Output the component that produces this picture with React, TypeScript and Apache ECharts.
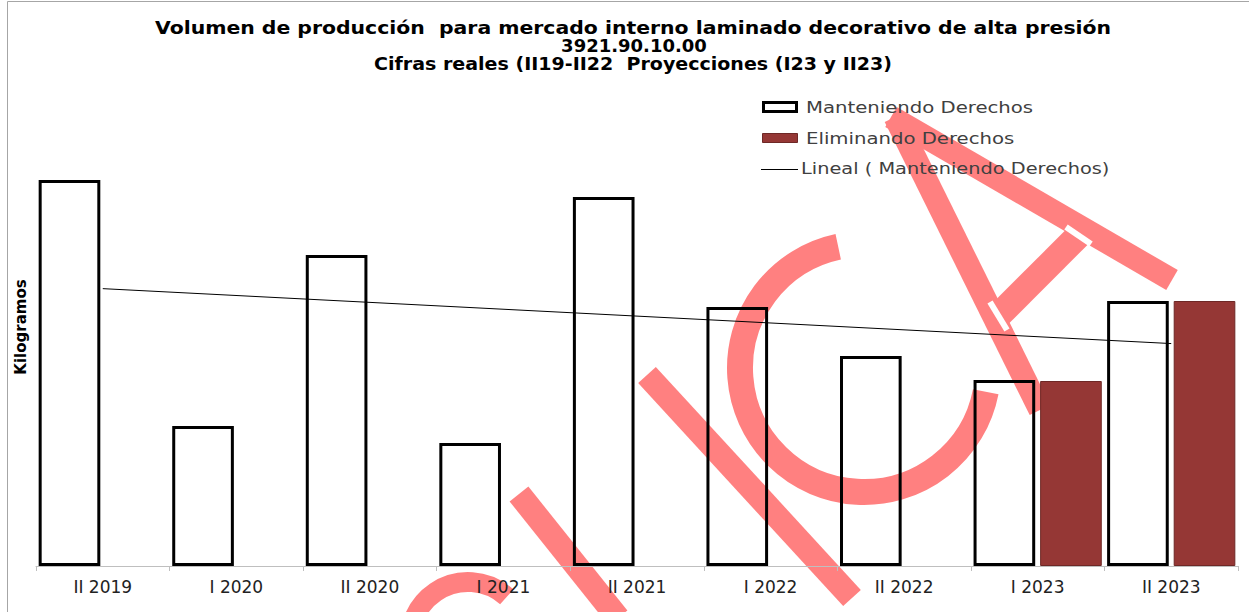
import React, { useEffect, useRef } from "react";
import * as echarts from "echarts";

const categories = ["II 2019", "I 2020", "II 2020", "I 2021", "II 2021", "I 2022", "II 2022", "I 2023", "II 2023"];
const manteniendo = [386, 140, 311, 123, 369, 259, 210, 186, 265];
const eliminando: (number | null)[] = [null, null, null, null, null, null, null, 185, 265];

const titleLines = [
  "Volumen de producción  para mercado interno laminado decorativo de alta presión",
  "3921.90.10.00",
  "Cifras reales (II19-II22  Proyecciones (I23 y II23)",
];
const seriesNames = ["Manteniendo Derechos", "Eliminando Derechos", "Lineal ( Manteniendo Derechos)"];

const FONT = "'DejaVu Sans', sans-serif";
const WM = "#ff8080";
const BROWN = "#953735";

function linearTrend(vals: number[]): (number | null)[] {
  const n = vals.length;
  const mx = (n - 1) / 2;
  const my = vals.reduce((s, v) => s + v, 0) / n;
  let sxy = 0, sxx = 0;
  vals.forEach((v, i) => { sxy += (i - mx) * (v - my); sxx += (i - mx) * (i - mx); });
  const b = sxy / sxx;
  const a = my - b * mx;
  return vals.map((_, i) => (i === 0 || i === n - 1 ? a + b * i : null));
}

function strip(x0: number, y0: number, x1: number, y1: number, w: number, fill = WM, z = -1) {
  const dx = x1 - x0, dy = y1 - y0;
  const L = Math.hypot(dx, dy);
  const nx = (-dy / L) * (w / 2), ny = (dx / L) * (w / 2);
  return {
    type: "polygon",
    z,
    silent: true,
    shape: { points: [[x0 + nx, y0 + ny], [x1 + nx, y1 + ny], [x1 - nx, y1 - ny], [x0 - nx, y0 - ny]] },
    style: { fill },
  };
}

function label(text: string, x: number, y: number, font: string, color: string, sx: number, align = "left") {
  return {
    type: "text",
    z: 10,
    x,
    y,
    scaleX: sx,
    style: { text, x: 0, y: 0, textAlign: align, textVerticalAlign: "middle", font, fill: color },
  };
}

const deg = (d: number) => (d * Math.PI) / 180;

export default function App() {
  const ref = useRef<HTMLDivElement>(null);
  useEffect(() => {
    if (!ref.current) return;
    const chart = echarts.init(ref.current, null, { renderer: "svg" });
    const trend = linearTrend(manteniendo);
    const legendFont = `16px ${FONT}`;
    const titleFont = `bold 17px ${FONT}`;
    chart.setOption({
      animation: false,
      backgroundColor: "#ffffff",
      grid: { left: 36, right: 11, top: 166, bottom: 46, containLabel: false },
      xAxis: {
        type: "category",
        data: categories,
        axisLine: { lineStyle: { color: "#bfbfbf", width: 1 } },
        axisTick: { show: true, length: 5, interval: 0, lineStyle: { color: "#bfbfbf" } },
        axisLabel: { interval: 0, margin: 12, fontFamily: FONT, fontSize: 17, color: "#222222" },
        splitLine: { show: false },
      },
      yAxis: { type: "value", min: 0, max: 400, show: false },
      series: [
        {
          name: seriesNames[0],
          type: "bar",
          data: manteniendo,
          barCategoryGap: "4%",
          barGap: "8%",
          itemStyle: { color: "rgba(255,255,255,0)", borderColor: "#000000", borderWidth: 3 },
        },
        {
          name: seriesNames[1],
          type: "bar",
          data: eliminando,
          itemStyle: { color: BROWN, borderColor: "#6e2826", borderWidth: 1 },
        },
        {
          name: seriesNames[2],
          type: "line",
          data: trend,
          connectNulls: true,
          showSymbol: false,
          symbol: "none",
          lineStyle: { color: "#000000", width: 1 },
          z: 5,
        },
      ],
      graphic: [
        { type: "rect", z: -2, silent: true, shape: { x: 7.5, y: 1.5, width: 1400, height: 800 }, style: { fill: "none", stroke: "#a6a6a6", lineWidth: 1 } },
        strip(647, 375, 852, 598, 24),
        strip(519, 494, 618, 618, 24),
        strip(895, 117, 1040, 410, 23),
        strip(891, 117, 1172, 280, 23),
        strip(998, 316, 1081, 233, 26),
        strip(990, 302, 1007, 330, 6, "#ffffff", -0.5),
        strip(1066, 227, 1091, 244, 6, "#ffffff", -0.5),
        { type: "arc", z: -1, silent: true, shape: { cx: 864, cy: 368, r: 124, startAngle: deg(11), endAngle: deg(258), clockwise: true }, style: { stroke: WM, lineWidth: 26, fill: "none" } },
        { type: "arc", z: -1, silent: true, shape: { cx: 468, cy: 640, r: 58, startAngle: deg(160), endAngle: deg(312), clockwise: true }, style: { stroke: WM, lineWidth: 20, fill: "none" } },
        // title
        label(titleLines[0], 633, 28, titleFont, "#000000", 1.2, "center"),
        label(titleLines[1], 634, 46, titleFont, "#000000", 1.06, "center"),
        label(titleLines[2], 633, 64, titleFont, "#000000", 1.12, "center"),
        // y axis title
        {
          type: "text",
          z: 10,
          rotation: Math.PI / 2,
          x: 21,
          y: 327,
          style: { text: "Kilogramos", x: 0, y: 0, textAlign: "center", textVerticalAlign: "middle", font: `bold 15px ${FONT}`, fill: "#000000" },
        },
        // legend
        { type: "rect", z: 10, shape: { x: 763.5, y: 102.5, width: 33, height: 9 }, style: { fill: "#ffffff", stroke: "#000000", lineWidth: 3 } },
        label(seriesNames[0], 806, 107, legendFont, "#404040", 1.23),
        { type: "rect", z: 10, shape: { x: 762.5, y: 133.5, width: 35, height: 9 }, style: { fill: BROWN, stroke: "#6e2826", lineWidth: 1 } },
        label(seriesNames[1], 806, 138, legendFont, "#404040", 1.23),
        { type: "line", z: 10, shape: { x1: 761, y1: 169.5, x2: 798, y2: 169.5 }, style: { stroke: "#000000", lineWidth: 1 } },
        label(seriesNames[2], 801, 169, legendFont, "#404040", 1.21),
      ],
    });
    return () => chart.dispose();
  }, []);
  return <div ref={ref} style={{ position: "fixed", left: 0, top: 0, width: 1249, height: 612 }} />;
}
